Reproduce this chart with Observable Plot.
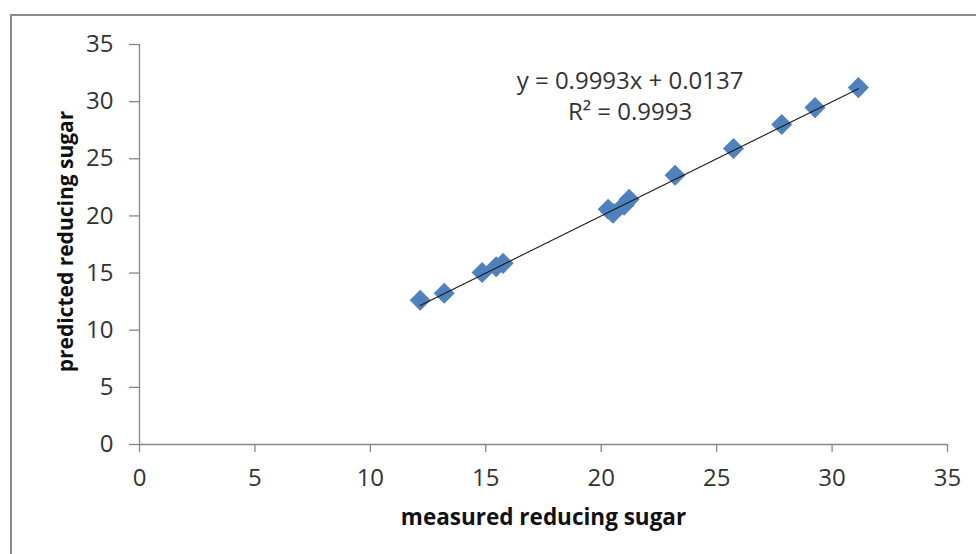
<!DOCTYPE html>
<html>
<head>
<meta charset="utf-8">
<script src="https://cdn.jsdelivr.net/npm/d3@7"></script>
<script src="https://cdn.jsdelivr.net/npm/@observablehq/plot@0.6"></script>
<style>
  html, body { margin: 0; padding: 0; background: #ffffff; }
  #wrap { position: relative; width: 976px; height: 554px; overflow: hidden; }
  #border {
    position: absolute; left: 10px; top: 14px; width: 1200px; height: 800px;
    border-top: 2px solid #8a8a8a; border-left: 2px solid #8a8a8a;
    pointer-events: none; z-index: 2;
  }
</style>
</head>
<body>
<div id="wrap"><div id="border"></div></div>
<script>
// Measured vs predicted reducing sugar (one pair per sample)
const measured  = [12.16, 13.20, 14.84, 15.45, 15.75, 20.30, 20.51, 20.99, 21.21, 23.20, 25.73, 27.82, 29.26, 31.14];
const predicted = [12.62, 13.24, 15.05, 15.55, 15.85, 20.58, 20.24, 20.94, 21.46, 23.56, 25.90, 28.00, 29.48, 31.23];

// Linear trendline coefficients and fit quality
const slope = 0.9993;
const intercept = 0.0137;
const rSquared = 0.9993;

// Axis ticks (same for both axes)
const ticks = [0, 5, 10, 15, 20, 25, 30, 35];

const points = measured.map((m, i) => ({measured: m, predicted: predicted[i]}));
const [xMin, xMax] = d3.extent(measured);
const trend = [xMin, xMax].map(x => ({x, y: slope * x + intercept}));

const axisGrey = "#868686";
const textColor = "#333333";

const chart = Plot.plot({
  width: 976,
  height: 554,
  marginLeft: 139,
  marginRight: 29,
  marginTop: 44,
  marginBottom: 110,
  style: {fontFamily: "'Open Sans', sans-serif", background: "transparent", overflow: "visible"},
  x: {domain: [0, 35]},
  y: {domain: [0, 35]},
  marks: [
    Plot.ruleY([0], {stroke: axisGrey, strokeWidth: 1.3}),
    Plot.ruleX([0], {stroke: axisGrey, strokeWidth: 1.3}),
    Plot.axisX({ticks, tickSize: 8, tickPadding: 16, stroke: axisGrey, strokeWidth: 1.3,
      fill: textColor, fontSize: 24, label: null}),
    Plot.axisY({ticks, tickSize: 10, tickPadding: 16, stroke: axisGrey, strokeWidth: 1.3,
      fill: textColor, fontSize: 24, label: null}),
    Plot.dot(points, {x: "measured", y: "predicted", symbol: "diamond2", r: 9.5,
      fill: "#4f81bd", stroke: "none"}),
    Plot.line(trend, {x: "x", y: "y", stroke: "#1a1a1a", strokeWidth: 1.1}),
    Plot.text([`y = ${slope}x + ${intercept}\nR² = ${rSquared}`], {
      x: () => 21.25, y: () => 30.6, fill: textColor, fontSize: 24, lineHeight: 1.27,
      textAnchor: "middle"
    }),
    Plot.text(["measured reducing sugar"], {frameAnchor: "bottom", dy: 73,
      textAnchor: "middle", lineAnchor: "middle",
      fontWeight: "bold", fontSize: 22.5, fill: "#111111"}),
    Plot.text(["predicted reducing sugar"], {frameAnchor: "left", dx: -73, dy: -3, rotate: -90,
      textAnchor: "middle", lineAnchor: "middle",
      fontWeight: "bold", fontSize: 21, fill: "#111111"})
  ]
});
document.getElementById("wrap").appendChild(chart);
</script>
</body>
</html>
